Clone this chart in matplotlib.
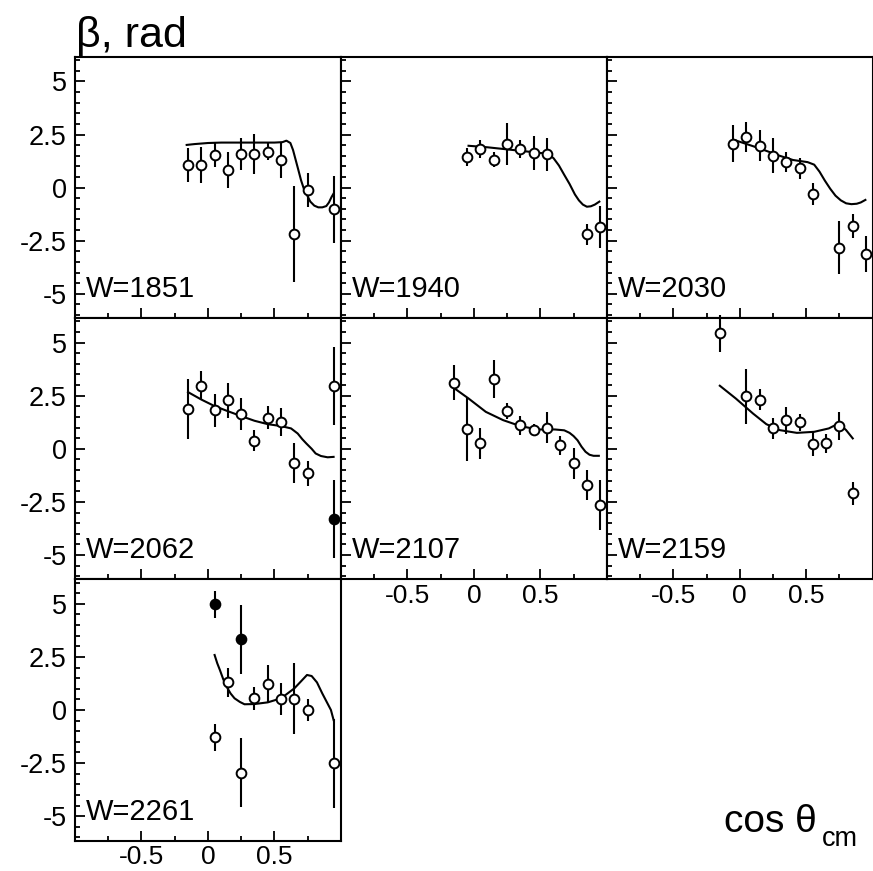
import matplotlib
matplotlib.use("Agg")
import matplotlib.pyplot as plt
from matplotlib.ticker import FixedLocator, NullFormatter

plt.rcParams['font.family'] = ['Liberation Sans', 'DejaVu Sans']

# ---------------- data ----------------
w_labels = ["W=1851", "W=1940", "W=2030", "W=2062", "W=2107", "W=2159", "W=2261"]

x1 = [-0.15, -0.05, 0.05, 0.15, 0.25, 0.35, 0.45, 0.55, 0.65, 0.75, 0.95]
y1 = [1.07, 1.07, 1.54, 0.83, 1.58, 1.58, 1.69, 1.30, -2.19, -0.11, -1.02]
e1 = [0.79, 0.85, 0.55, 0.86, 0.75, 0.94, 0.41, 0.84, 2.26, 0.79, 1.57]
cx1 = [-0.16, -0.1, 0.0, 0.1, 0.2, 0.3, 0.4, 0.5, 0.56, 0.59, 0.62, 0.64, 0.66, 0.68, 0.70,
       0.72, 0.745, 0.77, 0.80, 0.83, 0.86, 0.89, 0.91, 0.93, 0.945]
cy1 = [2.01, 2.05, 2.1, 2.12, 2.12, 2.12, 2.12, 2.12, 2.14, 2.21, 2.1, 1.77, 1.3, 0.83, 0.35,
       -0.03, -0.35, -0.66, -0.85, -0.93, -0.93, -0.87, -0.7, -0.44, -0.28]

x2 = [-0.05, 0.05, 0.15, 0.25, 0.35, 0.45, 0.55, 0.85, 0.95]
y2 = [1.43, 1.83, 1.32, 2.06, 1.81, 1.64, 1.56, -2.19, -1.87]
e2 = [0.42, 0.42, 0.37, 0.98, 0.43, 0.79, 0.77, 0.49, 0.98]
cx2 = [-0.04, 0.1, 0.25, 0.4, 0.56, 0.6, 0.64, 0.68, 0.72, 0.76, 0.79, 0.82, 0.85, 0.88, 0.91, 0.944]
cy2 = [1.97, 1.9, 1.8, 1.7, 1.59, 1.38, 1.04, 0.6, 0.17, -0.32, -0.6, -0.8, -0.9, -0.88, -0.8, -0.66]

x3 = [-0.05, 0.05, 0.15, 0.25, 0.35, 0.45, 0.55, 0.75, 0.85, 0.95]
y3 = [2.06, 2.38, 1.98, 1.51, 1.2, 0.91, -0.3, -2.83, -1.81, -3.13]
e3 = [0.87, 0.72, 0.73, 0.82, 0.47, 0.49, 0.54, 1.24, 0.57, 0.83]
cx3 = [-0.03, 0.1, 0.2, 0.3, 0.4, 0.51, 0.56, 0.6, 0.64, 0.68, 0.72, 0.76, 0.8, 0.84, 0.88, 0.91, 0.945]
cy3 = [2.22, 1.95, 1.73, 1.5, 1.3, 1.2, 1.08, 0.75, 0.33, -0.05, -0.38, -0.6, -0.74, -0.78, -0.76, -0.7, -0.58]

x4 = [-0.15, -0.05, 0.05, 0.15, 0.25, 0.35, 0.45, 0.55, 0.65, 0.75, 0.95]
y4 = [1.88, 2.98, 1.82, 2.29, 1.63, 0.39, 1.46, 1.27, -0.66, -1.16, 2.95]
e4 = [1.4, 0.67, 0.77, 0.82, 0.75, 0.51, 0.54, 0.67, 0.94, 0.59, 1.85]
x4f = [0.95]
y4f = [-3.31]
e4f = [1.84]
cx4 = [-0.15, -0.05, 0.05, 0.15, 0.25, 0.35, 0.45, 0.55, 0.625, 0.675, 0.71, 0.74, 0.78, 0.81, 0.85, 0.9, 0.945]
cy4 = [2.67, 2.32, 2.01, 1.77, 1.54, 1.32, 1.16, 1.07, 0.96, 0.72, 0.45, 0.25, 0.0, -0.22, -0.34, -0.4, -0.38]

x5 = [-0.15, -0.05, 0.05, 0.15, 0.25, 0.35, 0.45, 0.55, 0.65, 0.75, 0.85, 0.95]
y5 = [3.11, 0.91, 0.25, 3.27, 1.77, 1.1, 0.88, 0.99, 0.16, -0.69, -1.71, -2.65]
e5 = [0.83, 1.47, 0.75, 0.9, 0.38, 0.43, 0.28, 0.72, 0.43, 0.71, 0.71, 1.18]
cx5 = [-0.156, -0.04, 0.09, 0.22, 0.35, 0.48, 0.61, 0.68, 0.72, 0.75, 0.78, 0.81, 0.84, 0.87, 0.9, 0.94]
cy5 = [2.89, 2.37, 1.74, 1.35, 1.07, 0.91, 0.91, 0.87, 0.75, 0.6, 0.4, 0.1, -0.14, -0.28, -0.33, -0.33]

x6 = [-0.15, 0.05, 0.15, 0.25, 0.35, 0.45, 0.55, 0.65, 0.75, 0.85]
y6 = [5.43, 2.48, 2.32, 0.96, 1.35, 1.24, 0.22, 0.25, 1.07, -2.1]
e6 = [0.85, 1.3, 0.51, 0.49, 0.63, 0.39, 0.57, 0.47, 0.64, 0.53]
cx6 = [-0.15, -0.03, 0.1, 0.2, 0.3, 0.43, 0.56, 0.67, 0.745, 0.8, 0.85]
cy6 = [2.97, 2.37, 1.66, 1.16, 0.88, 0.75, 0.8, 0.96, 1.2, 0.88, 0.49]

x7 = [0.05, 0.15, 0.25, 0.35, 0.45, 0.55, 0.65, 0.75, 0.95]
y7 = [-1.29, 1.3, -2.95, 0.55, 1.22, 0.52, 0.52, 0.0, -2.51]
e7 = [0.63, 0.69, 1.61, 0.55, 0.9, 0.75, 1.67, 0.51, 2.1]
x7f = [0.05, 0.25]
y7f = [4.98, 3.32]
e7f = [0.64, 1.61]
cx7 = [0.05, 0.07, 0.09, 0.115, 0.14, 0.17, 0.2, 0.24, 0.275, 0.35, 0.45, 0.55, 0.65, 0.7,
       0.745, 0.78, 0.82, 0.86, 0.9, 0.925, 0.945]
cy7 = [2.59, 2.2, 1.88, 1.45, 1.1, 0.78, 0.55, 0.38, 0.27, 0.28, 0.36, 0.55, 1.02, 1.35,
       1.65, 1.6, 1.3, 0.78, 0.3, 0.0, -0.47]

x_major = [-0.5, 0, 0.5]
x_major_labels = ["-0.5", "0", "0.5"]
x_minor = [-0.75, -0.25, 0.25, 0.75]
y_major = [-5, -2.5, 0, 2.5, 5]
y_major_labels = ["-5", "-2.5", "0", "2.5", "5"]
y_minor = [-6, -5.5, -4.5, -4, -3.5, -3, -2, -1.5, -1, -0.5, 0.5, 1, 1.5, 2, 3, 3.5, 4, 4.5, 5.5, 6]

panels = [
    dict(x=x1, y=y1, e=e1, cx=cx1, cy=cy1),
    dict(x=x2, y=y2, e=e2, cx=cx2, cy=cy2),
    dict(x=x3, y=y3, e=e3, cx=cx3, cy=cy3),
    dict(x=x4, y=y4, e=e4, cx=cx4, cy=cy4, xf=x4f, yf=y4f, ef=e4f),
    dict(x=x5, y=y5, e=e5, cx=cx5, cy=cy5),
    dict(x=x6, y=y6, e=e6, cx=cx6, cy=cy6),
    dict(x=x7, y=y7, e=e7, cx=cx7, cy=cy7, xf=x7f, yf=y7f, ef=e7f),
]

# ---------------- figure ----------------
W, H = 873, 871
fig = plt.figure(figsize=(W / 100, H / 100), dpi=100)
left_px, top_px = 75, 57
pw, ph = 265.9, 261.2

show_xlabels = {4, 5, 6}

for i, p in enumerate(panels):
    r, c = divmod(i, 3)
    l = (left_px + c * pw) / W
    b = 1 - (top_px + (r + 1) * ph) / H
    ax = fig.add_axes([l, b, pw / W, ph / H])
    ax.set_xlim(-1, 1)
    ax.set_ylim(-6.15, 6.15)
    for s in ax.spines.values():
        s.set_linewidth(1.5)
    ax.xaxis.set_major_locator(FixedLocator(x_major))
    ax.xaxis.set_minor_locator(FixedLocator(x_minor))
    ax.yaxis.set_major_locator(FixedLocator(y_major))
    ax.yaxis.set_minor_locator(FixedLocator(y_minor))
    ax.tick_params(which='both', direction='in', top=False, right=False, width=1.3)
    ax.tick_params(which='major', length=7.2)
    ax.tick_params(which='minor', length=3.8)
    ax.tick_params(axis='x', pad=3.5, labelsize=19)
    ax.tick_params(axis='y', pad=6, labelsize=19.5)
    if i in show_xlabels:
        ax.set_xticklabels(x_major_labels)
    else:
        ax.xaxis.set_major_formatter(NullFormatter())
    if c == 0:
        ax.set_yticklabels(y_major_labels)
    else:
        ax.yaxis.set_major_formatter(NullFormatter())

    ax.plot(p['cx'], p['cy'], color='black', lw=1.5, zorder=2)
    ax.errorbar(p['x'], p['y'], yerr=p['e'], fmt='o', color='black', mfc='white',
                mec='black', ms=7, mew=1.4, elinewidth=1.5, capsize=0, zorder=3, clip_on=False)
    if 'xf' in p:
        ax.errorbar(p['xf'], p['yf'], yerr=p['ef'], fmt='o', color='black', mfc='black',
                    mec='black', ms=7, mew=1.4, elinewidth=1.5, capsize=0, zorder=3, clip_on=False)
    ax.text(11 / pw, 21 / ph, w_labels[i], transform=ax.transAxes, fontsize=21,
            ha='left', va='baseline')

fig.text(76 / W, 1 - 46.5 / H, "β, rad", fontsize=31, ha='left', va='baseline')
fig.text(724 / W, 1 - 831.5 / H, "cos θ", fontsize=28, ha='left', va='baseline')
fig.text(822 / W, 1 - 846 / H, "cm", fontsize=19.5, ha='left', va='baseline')

fig.savefig("out.png", dpi=100, facecolor='white')
